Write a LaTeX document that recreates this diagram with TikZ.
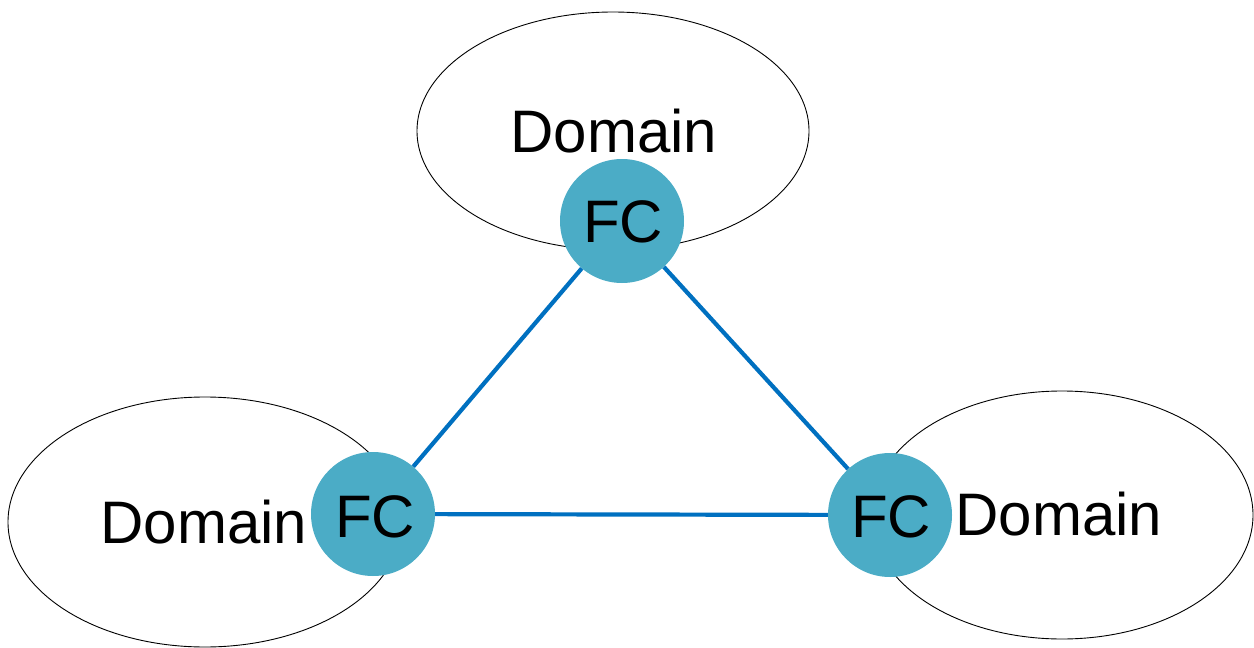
\documentclass[tikz,border=0pt]{standalone}
\usepackage{fontspec}
\setmainfont{Liberation Sans}
\usetikzlibrary{shapes.geometric}
\definecolor{fcfill}{HTML}{4BACC6}
\definecolor{linkblue}{HTML}{0070C0}
\begin{document}
\begin{tikzpicture}[x=1pt,y=-1pt,
  domainbox/.style={ellipse,draw=black,line width=0.9pt,fill=white,inner sep=0pt},
  fcnode/.style={circle,fill=fcfill,minimum size=124pt,inner sep=0pt},
  lbl/.style={anchor=base,inner sep=0pt,font=\fontsize{60}{68}\selectfont},
  link/.style={draw=linkblue,line width=4.2pt}]
\useasboundingbox (0,0) rectangle (1254,648);
% domain regions
\node[domainbox,minimum width=392pt,minimum height=238pt] (dt) at (613,131) {};
\node[domainbox,minimum width=394pt,minimum height=250pt] (dl) at (205,522) {};
\node[domainbox,minimum width=382pt,minimum height=248pt] (dr) at (1062,515) {};
% domain labels
\node[lbl] (tdt) at (614,152) {Domain};
\node[lbl] (tdl) at (204,543) {Domain};
\node[lbl] (tdr) at (1059,535) {Domain};
% federation controllers
\node[fcnode] (ft) at (622,221) {};
\node[fcnode] (fl) at (373,514) {};
\node[fcnode] (fr) at (890,515) {};
% links between controllers
\draw[link] (ft) -- (fl);
\draw[link] (ft) -- (fr);
\draw[link] (fl) -- (fr);
% controller labels
\node[lbl] (tft) at (623,242) {FC};
\node[lbl] (tfl) at (375,537) {FC};
\node[lbl] (tfr) at (891,537) {FC};
\end{tikzpicture}
\end{document}
